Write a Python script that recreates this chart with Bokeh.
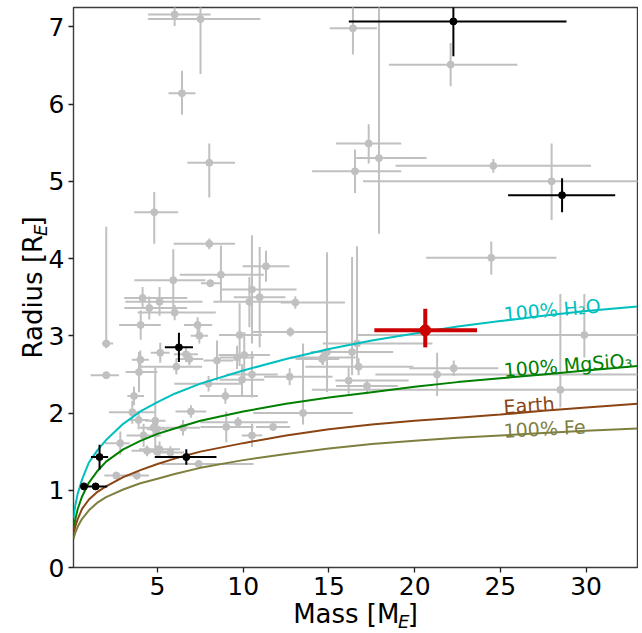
import numpy as np
from bokeh.plotting import figure
from bokeh.models import Range1d, FixedTicker, Label, ColumnDataSource, Title
from bokeh.embed import file_html
from bokeh.resources import INLINE

# ---------------- data ----------------
# comparison sample (grey): mass [M_E], lower/upper errors, radius [R_E], lower/upper errors
gray_m = [6.0, 7.51, 6.43, 8.02, 4.81, 8.02, 8.7, 11.33, 5.92, 8.08,
          4.13, 5.12, 4.52, 6.0, 2.01, 16.4, 17.92, 17.32, 16.52, 24.59,
          27.99, 24.47, 22.1, 13.04, 14.89, 16.35, 16.64, 14.66, 16.73, 16.15,
          17.22, 21.31, 22.28, 29.9, 28.5, 13.49, 4.02, 7.34, 7.44, 9.79,
          12.75, 10.51, 10.96, 10.36, 5.16, 6.66, 6.86, 6.1, 8.47, 9.64,
          10.06, 10.51, 9.93, 7.98, 8.96, 12.71, 14.6, 9.01, 9.7, 11.74,
          10.51, 2.01, 3.92, 4.0, 3.63, 3.53, 3.9, 4.87, 6.95, 6.49,
          4.77, 4.97, 4.19, 2.83, 5.12, 4.39, 4.97, 5.75, 7.4, 2.6, 3.8]
gray_m_lo = [1.55, 3.07, 0.79, 1.28, 1.17, 2.08, 2.4, 1.37, 2.27, 0.55,
             1.07, 2.0, 1.45, 2.16, 0.25, 1.35, 1.33, 1.9, 2.5, 5.7,
             11.0, 3.8, 3.6, 0.85, 0.7, 2.4, 2.0, 1.9, 3.1, 0.78,
             1.8, 3.6, 2.6, 13.3, 14.5, 2.9, 1.26, 0.8, 0.5, 1.2,
             2.2, 1.8, 1.5, 2.1, 0.55, 0.7, 0.8, 2.2, 0.78, 1.0,
             1.5, 1.5, 1.3, 2.0, 1.5, 1.5, 1.55, 1.5, 2.2, 1.0,
             0.6, 0.92, 0.78, 0.5, 0.39, 1.36, 0.6, 0.6, 0.9, 1.0,
             0.8, 0.6, 1.0, 0.9, 1.2, 0.9, 0.6, 0.8, 2.2, 0.7, 0.7]
gray_m_hi = [2.1, 3.49, 0.78, 1.5, 1.4, 1.5, 2.5, 1.36, 1.87, 0.58,
             2.6, 2.5, 2.2, 2.4, 0.4, 1.4, 2.77, 1.9, 2.7, 5.7,
             11.0, 3.8, 3.9, 2.9, 0.7, 2.4, 4.4, 1.9, 3.2, 3.5,
             1.8, 11.7, 2.6, 13.3, 14.5, 2.9, 1.17, 0.85, 0.5, 1.3,
             2.2, 2.6, 1.5, 2.8, 0.55, 0.7, 0.8, 1.5, 0.97, 1.0,
             1.5, 1.5, 1.3, 2.0, 1.9, 2.5, 1.0, 1.6, 2.9, 1.0,
             0.6, 0.74, 1.07, 0.5, 0.58, 1.36, 0.6, 0.6, 0.9, 1.0,
             0.7, 0.6, 1.0, 0.55, 1.2, 0.9, 0.6, 0.8, 3.2, 0.7, 0.7]
gray_r = [7.16, 7.1, 6.14, 5.24, 4.6, 4.19, 3.79, 3.9, 3.72, 3.68,
          3.49, 3.44, 3.36, 3.3, 2.9, 6.98, 5.3, 5.49, 5.13, 5.2,
          5.0, 4.01, 6.51, 3.43, 2.79, 2.79, 2.9, 2.72, 2.6, 2.42,
          2.35, 2.5, 2.58, 3.01, 2.3, 2.0, 3.14, 3.14, 3.0, 3.01,
          3.05, 3.6, 3.5, 3.44, 2.78, 2.76, 2.7, 2.6, 2.68, 2.72,
          2.75, 2.5, 2.43, 2.38, 2.22, 2.47, 2.7, 1.82, 1.88, 1.82,
          1.71, 2.49, 2.53, 2.69, 2.22, 2.01, 1.91, 1.9, 2.02, 1.81,
          1.81, 1.79, 1.71, 1.61, 1.53, 1.51, 1.5, 1.49, 1.34, 1.19, 1.19]
gray_r_lo = [0.15, 0.71, 0.28, 0.45, 0.41, 0.07, 0.35, 0.2, 0.45, 0.05,
             0.12, 0.18, 0.15, 0.1, 0.06, 0.34, 0.98, 0.26, 0.28, 0.09,
             0.5, 0.22, 0.28, 0.08, 0.52, 0.3, 0.3, 0.1, 0.11, 0.17,
             0.08, 0.28, 0.1, 0.29, 0.23, 0.15, 0.19, 0.1, 0.1, 0.4,
             0.06, 0.7, 0.65, 0.33, 0.13, 0.1, 0.08, 0.1, 0.26, 0.15,
             0.3, 0.3, 0.2, 0.1, 0.1, 0.11, 0.07, 0.2, 0.07, 0.05,
             0.15, 0.03, 0.26, 0.12, 0.12, 0.15, 0.12, 0.39, 0.08, 0.1,
             0.1, 0.1, 0.15, 0.15, 0.1, 0.07, 0.08, 0.08, 0.05, 0.05, 0.05]
gray_r_hi = [0.15, 0.71, 0.29, 0.25, 0.26, 0.07, 0.38, 0.2, 0.4, 0.05,
             0.14, 0.19, 0.15, 0.1, 1.51, 0.34, 2.2, 0.25, 0.28, 0.09,
             0.49, 0.21, 0.28, 0.08, 1.29, 1.23, 1.26, 0.1, 0.11, 0.17,
             0.08, 0.28, 0.1, 0.53, 1.24, 0.9, 0.19, 0.1, 0.1, 0.41,
             0.06, 0.7, 0.65, 0.32, 0.13, 0.1, 0.08, 0.1, 0.26, 0.15,
             0.3, 0.3, 0.2, 0.1, 0.1, 0.11, 0.07, 0.2, 0.07, 0.05,
             0.15, 0.03, 0.26, 0.12, 0.12, 0.15, 0.12, 0.69, 0.08, 0.1,
             0.1, 0.1, 0.15, 0.15, 0.1, 0.07, 0.08, 0.08, 0.05, 0.05, 0.05]

# highlighted planets (black)
blk_m = [22.26, 28.6, 6.25, 6.68, 1.62, 0.71, 1.39]
blk_m_lo = [6.1, 3.15, 0.82, 1.84, 0.5, 0.05, 0.68]
blk_m_hi = [6.6, 3.1, 0.82, 1.76, 0.5, 0.05, 0.68]
blk_r = [7.07, 4.82, 2.85, 1.43, 1.43, 1.05, 1.05]
blk_r_lo = [0.45, 0.22, 0.19, 0.1, 0.16, 0.02, 0.03]
blk_r_hi = [0.45, 0.22, 0.19, 0.1, 0.16, 0.02, 0.03]

# target planet (red)
red_m = [20.62]
red_m_lo = [2.97]
red_m_hi = [3.02]
red_r = [3.07]
red_r_lo = [0.22]
red_r_hi = [0.28]

# composition curves
curve_m = [0.1, 0.2, 0.35, 0.6, 1, 1.5, 2, 3, 4, 5, 6, 7.5, 10, 12.5, 15,
           17.5, 20, 22.5, 25, 27.5, 30, 33]
r_h2o = [0.64, 0.80, 0.96, 1.14, 1.36, 1.52, 1.65, 1.86, 2.02, 2.14, 2.25,
         2.38, 2.55, 2.70, 2.83, 2.94, 3.03, 3.12, 3.19, 3.26, 3.32, 3.38]
r_mgsio3 = [0.50, 0.62, 0.76, 0.92, 1.10, 1.25, 1.37, 1.53, 1.64, 1.73, 1.80,
            1.90, 2.02, 2.12, 2.20, 2.27, 2.34, 2.40, 2.45, 2.50, 2.55, 2.61]
r_earth = [0.43, 0.53, 0.63, 0.76, 0.88, 0.98, 1.05, 1.17, 1.26, 1.34, 1.41,
           1.50, 1.61, 1.71, 1.79, 1.85, 1.90, 1.94, 1.98, 2.03, 2.07, 2.12]
r_fe = [0.37, 0.45, 0.53, 0.63, 0.74, 0.84, 0.91, 1.01, 1.09, 1.15, 1.21,
        1.29, 1.39, 1.47, 1.54, 1.60, 1.64, 1.68, 1.71, 1.74, 1.77, 1.80]

x_ticks = [5, 10, 15, 20, 25, 30]
y_ticks = [0, 1, 2, 3, 4, 5, 6, 7]

FONT = "DejaVu Sans"
GRAY = "#c0c0c0"
C_H2O = "#00bfbf"
C_MG = "#008000"
C_EARTH = "#8b4513"
C_FE = "#7f7f3f"
C_RED = "#cc0000"


def err_source(m, mlo, mhi, r, rlo, rhi):
    m = np.asarray(m, float); r = np.asarray(r, float)
    return ColumnDataSource(dict(
        m=m, r=r,
        x0=m - np.asarray(mlo), x1=m + np.asarray(mhi),
        y0=r - np.asarray(rlo), y1=r + np.asarray(rhi)))


p = figure(width=638, height=633, x_range=Range1d(0.1, 33), y_range=Range1d(0, 7.25),
           output_backend="svg", toolbar_location=None,
           min_border_left=73, min_border_right=1, min_border_top=7, min_border_bottom=66)
p.xgrid.visible = False
p.ygrid.visible = False
p.outline_line_color = "#3c3c3c"
p.outline_line_width = 1.4
p.background_fill_color = "white"
p.border_fill_color = "white"

for ax, ticks in ((p.xaxis, x_ticks), (p.yaxis, y_ticks)):
    ax.ticker = FixedTicker(ticks=ticks)
    ax.axis_line_color = None
    ax.major_tick_line_color = "#222222"
    ax.major_tick_line_width = 1.3
    ax.major_tick_out = 5
    ax.major_tick_in = 0
    ax.minor_tick_line_color = None
    ax.major_label_text_font = FONT
    ax.major_label_text_font_size = "25px"
    ax.major_label_text_color = "black"
    ax.major_label_standoff = 4

# grey comparison sample
gs = err_source(gray_m, gray_m_lo, gray_m_hi, gray_r, gray_r_lo, gray_r_hi)
p.segment("x0", "r", "x1", "r", source=gs, line_color=GRAY, line_width=2)
p.segment("m", "y0", "m", "y1", source=gs, line_color=GRAY, line_width=2)
p.scatter("m", "r", source=gs, marker="circle", size=7, fill_color=GRAY, line_color=GRAY)

# composition curves
for rr, col in ((r_h2o, C_H2O), (r_mgsio3, C_MG), (r_earth, C_EARTH), (r_fe, C_FE)):
    p.line(curve_m, rr, line_color=col, line_width=2)

# black planets
bs = err_source(blk_m, blk_m_lo, blk_m_hi, blk_r, blk_r_lo, blk_r_hi)
p.segment("x0", "r", "x1", "r", source=bs, line_color="black", line_width=2)
p.segment("m", "y0", "m", "y1", source=bs, line_color="black", line_width=2)
p.scatter("m", "r", source=bs, marker="circle", size=7, fill_color="black", line_color="black")

# red planet
rs = err_source(red_m, red_m_lo, red_m_hi, red_r, red_r_lo, red_r_hi)
p.segment("x0", "r", "x1", "r", source=rs, line_color=C_RED, line_width=4)
p.segment("m", "y0", "m", "y1", source=rs, line_color=C_RED, line_width=4)
p.scatter("m", "r", source=rs, marker="circle", size=11, fill_color=C_RED, line_color=C_RED)

# curve labels
for txt, yv, ang, col in (("100% H\u2082O", 3.283, 5.0, C_H2O),
                          ("100% MgSiO\u2083", 2.557, 4.5, C_MG),
                          ("Earth", 2.082, 4.0, C_EARTH),
                          ("100% Fe", 1.771, 3.0, C_FE)):
    p.add_layout(Label(x=25.19, y=yv, text=txt, angle=ang, angle_units="deg",
                       text_font=FONT, text_font_size="19px", text_color=col,
                       text_align="left", text_baseline="alphabetic"))


# axis titles with an italic subscript E: side-panel titles (not clipped to the frame)
def side_title(side, text, size, style, align, valign, offset, standoff):
    p.add_layout(Title(text=text, text_font=FONT, text_font_size=size,
                       text_font_style=style, text_color="black",
                       align=align, vertical_align=valign,
                       offset=offset, standoff=standoff), side)


side_title("below", "Mass [M ]", "26px", "normal", "center", "top", 0, 3)
side_title("below", "E", "18px", "italic", "left", "top", 324.5, -43.6)

side_title("left", "E", "18px", "italic", "left", "top", 331.5, -14.7)
side_title("left", "Radius [R ]", "26px", "normal", "center", "top", 0, -24.7)

open("out.html", "w").write(file_html(p, INLINE))
